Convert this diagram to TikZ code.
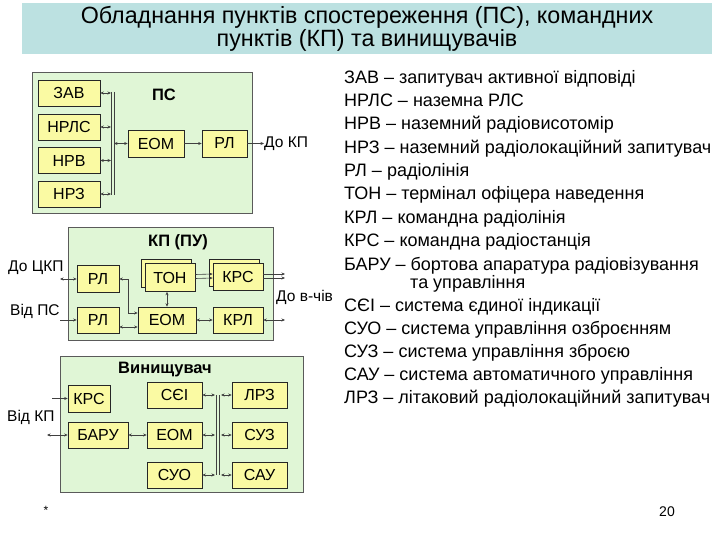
\documentclass[tikz,border=0pt]{standalone}
\usepackage{fontspec}
\setmainfont{Liberation Sans}
\newfontfamily\titlefont[FakeStretch=0.99]{Liberation Sans}
\usetikzlibrary{arrows.meta}
\definecolor{banner}{HTML}{BCE1E1}
\definecolor{grn}{HTML}{E0F6D6}
\definecolor{ylw}{HTML}{FAFAA3}
\definecolor{edge}{HTML}{5A5A5A}
\begin{document}
\begin{tikzpicture}[x=1pt,y=-1pt,
  >={Stealth[length=3.5pt,width=3pt]},
  panel/.style={draw=edge, fill=grn, line width=0.8pt},
  ybox/.style={draw=black!85, fill=ylw, line width=0.6pt, inner sep=0pt,
    font=\fontsize{16}{18}\selectfont},
  conn/.style={draw=black!75, line width=0.6pt},
  lbl/.style={font=\fontsize{15.5}{17}\selectfont, inner sep=0pt},
  ttl/.style={font=\fontsize{16.5}{18}\selectfont\bfseries, inner sep=0pt},
  leg/.style={font=\fontsize{18}{20}\selectfont, anchor=base west, inner sep=0pt}]
\useasboundingbox (0,0) rectangle (720,540);
\fill[white] (0,0) rectangle (720,540);

% title banner
\fill[banner] (22,3) rectangle (712,54);
\node[align=center, inner sep=0pt, font=\titlefont\fontsize{23.5}{18}\selectfont] (title) at (367,29)
  {Обладнання пунктів спостереження (ПС), командних\\пунктів (КП) та винищувачів};

% ---------- ПС ----------
\draw[panel] (32,72) rectangle (252,213);
\node[ttl] (pstitle) at (164,95) {ПС};
\node[ybox, minimum width=62pt, minimum height=26pt] (zav) at (69,93) {ЗАВ};
\node[ybox, minimum width=62pt, minimum height=26pt] (nrls) at (69,127) {НРЛС};
\node[ybox, minimum width=62pt, minimum height=26pt] (nrv) at (69,160.5) {НРВ};
\node[ybox, minimum width=62pt, minimum height=26pt] (nrz) at (69,194) {НРЗ};
\node[ybox, minimum width=56pt, minimum height=27pt] (eom1) at (156,143.5) {ЕОМ};
\node[ybox, minimum width=45pt, minimum height=27pt] (rl0) at (224.5,143.5) {РЛ};
\coordinate (busA) at (111,92);
\draw[conn] (111,92) -- (111,195);
\draw[conn] (114,92) -- (114,195);
\foreach \n in {zav,nrls,nrv,nrz}
  \draw[conn,<->] (\n.east) -- (\n.east -| busA);
\draw[conn,<->] (eom1.west -| 114,0) -- (eom1.west);
\draw[conn,->] (eom1.east) -- (rl0.west);
\coordinate (dokp) at (264,143.5);
\draw[conn,->] (rl0.east) -- (dokp);
\node[lbl, anchor=west] (dokpl) at (dokp) {До КП};

% ---------- КП (ПУ) ----------
\draw[panel] (68,227) rectangle (273,340);
\node[ttl] (kptitle) at (178,242) {КП (ПУ)};
\node[ybox, minimum width=42pt, minimum height=27pt] (rl1) at (98,279) {РЛ};
\node[ybox, minimum width=42pt, minimum height=26pt] (rl2) at (98,320) {РЛ};
\node[ybox, minimum width=58pt, minimum height=26pt] (eom2) at (167,320) {ЕОМ};
\node[ybox, minimum width=50pt, minimum height=28pt] (tonb) at (166,273.5) {};
\node[ybox, minimum width=50pt, minimum height=28pt] (ton) at (170,277.5) {ТОН};
\node[ybox, minimum width=50pt, minimum height=27pt] (krsb) at (234,273) {};
\node[ybox, minimum width=50pt, minimum height=27pt] (krs) at (238,277) {КРС};
\node[ybox, minimum width=50pt, minimum height=26pt] (krl) at (238,320) {КРЛ};

\coordinate (dockp) at (60,279);
\draw[conn,<->] (dockp) -- (rl1.west);
\node[lbl, anchor=west] (dockpl) at (8,268) {До ЦКП};
\coordinate (vidps) at (60,320);
\draw[conn,->] (vidps) -- (rl2.west);
\node[lbl, anchor=west] (vidpsl) at (10,311) {Від ПС};
\draw[conn,<->] (rl1.east) -- ++(9,0) |- ([yshift=7pt]eom2.west);
\draw[conn,<->] ([yshift=-7pt]rl2.east) -- ([yshift=-7pt]eom2.west);
\draw[conn,<->] (eom2.north) -- (eom2.north |- ton.south);
\draw[conn,->] ([yshift=3pt]ton.east) -- ([yshift=3pt]krs.west);
\draw[conn,->] ([yshift=-1pt]ton.east) -- ([yshift=-1pt]krs.west);
\coordinate (outk) at (285,277);
\draw[conn,->] ([yshift=3pt]krs.east) -- ([yshift=3pt]outk);
\draw[conn,->] ([yshift=-1pt]krs.east) -- ([yshift=-1pt]outk);
\draw[conn,<->] (eom2.east) -- (krl.west);
\coordinate (outl) at (285,320);
\draw[conn,<->] (krl.east) -- (outl);
\node[lbl, anchor=west] (dovch) at (276,297) {До в-чів};

% ---------- Винищувач ----------
\draw[panel] (60,356) rectangle (303,492);
\node[ttl] (vtitle) at (165,370) {Винищувач};
\node[ybox, minimum width=42pt, minimum height=27pt] (krs3) at (89,398.5) {КРС};
\node[ybox, minimum width=60pt, minimum height=26pt] (baru) at (98,435) {БАРУ};
\node[ybox, minimum width=55pt, minimum height=26pt] (sei) at (174.5,395) {СЄІ};
\node[ybox, minimum width=55pt, minimum height=26pt] (eom3) at (174.5,435) {ЕОМ};
\node[ybox, minimum width=55pt, minimum height=26pt] (suo) at (174.5,475) {СУО};
\node[ybox, minimum width=55pt, minimum height=26pt] (lrz) at (259.5,395) {ЛРЗ};
\node[ybox, minimum width=55pt, minimum height=26pt] (suz) at (259.5,435) {СУЗ};
\node[ybox, minimum width=55pt, minimum height=26pt] (sau) at (259.5,475) {САУ};
\draw[conn] (216.5,395) -- (216.5,475);
\draw[conn] (219.5,395) -- (219.5,475);
\foreach \l/\r in {sei/lrz,eom3/suz,suo/sau}{
  \draw[conn,<->] (\l.east) -- (\l.east -| 215,0);
  \draw[conn,<->] (\r.west -| 221,0) -- (\r.west);
}
\draw[conn,<->] (baru.east) -- (eom3.west);
\coordinate (inkrs) at (52,398.5);
\draw[conn,->] (inkrs) -- (krs3.west);
\coordinate (inbaru) at (47,435);
\draw[conn,<->] (inbaru) -- (baru.west);
\node[lbl, anchor=west] (vidkp) at (7,417) {Від КП};

% ---------- legend ----------
\node[leg] (l1) at (344,84) {ЗАВ – запитувач активної відповіді};
\node[leg] (l2) at (344,107) {НРЛС – наземна РЛС};
\node[leg] (l3) at (344,130) {НРВ – наземний радіовисотомір};
\node[leg] (l4) at (344,154) {НРЗ – наземний радіолокаційний запитувач};
\node[leg] (l5) at (344,177) {РЛ – радіолінія};
\node[leg] (l6) at (344,200) {ТОН – термінал офіцера наведення};
\node[leg] (l7) at (344,223) {КРЛ – командна радіолінія};
\node[leg] (l8) at (344,246) {КРС – командна радіостанція};
\node[leg] (l9) at (344,270) {БАРУ – бортова апаратура радіовізування};
\node[leg] (l10) at (410,288) {та управління};
\node[leg] (l11) at (344,311) {СЄІ – система єдиної індикації};
\node[leg] (l12) at (344,334) {СУО – система управління озброєнням};
\node[leg] (l13) at (344,357) {СУЗ – система управління зброєю};
\node[leg] (l14) at (344,380) {САУ – система автоматичного управління};
\node[leg] (l15) at (344,403) {ЛРЗ – літаковий радіолокаційний запитувач};

% footer
\node[font=\fontsize{12}{14}\selectfont, inner sep=0pt] (star) at (46,510) {*};
\node[font=\fontsize{14}{16}\selectfont, inner sep=0pt] (pnum) at (667,512) {20};
\end{tikzpicture}
\end{document}
